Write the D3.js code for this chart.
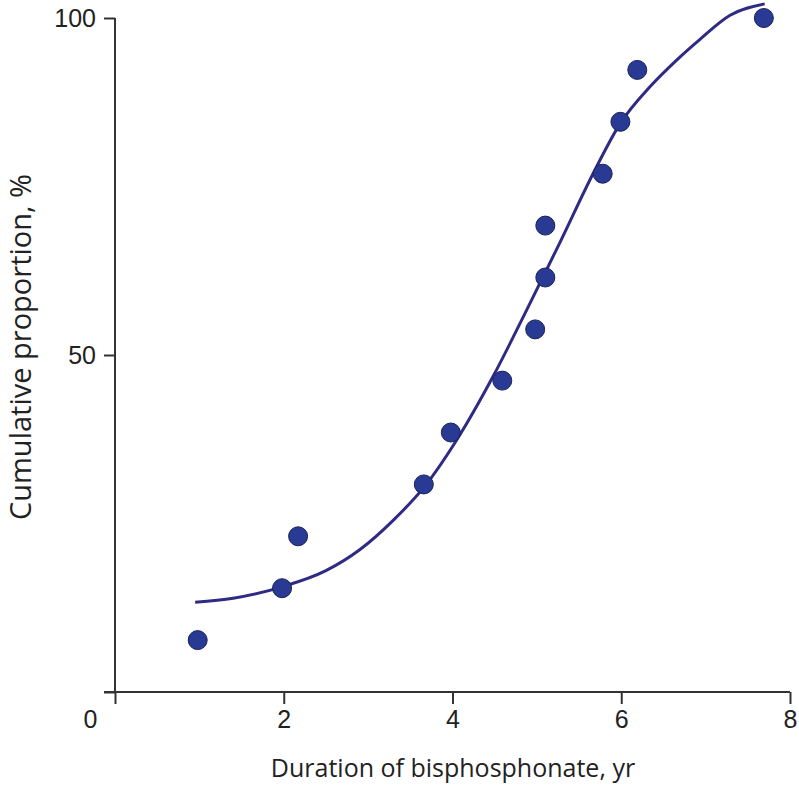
<!DOCTYPE html>
<html>
<head>
<meta charset="utf-8">
<script src="https://cdn.jsdelivr.net/npm/d3@7"></script>
<style>
	body { margin: 0; background: #fff; }
	svg { display: block; }
</style>
</head>
<body>
<div id="chart"></div>
<script>
// observed points: duration (yr) vs cumulative proportion (%)
var duration = [0.98, 1.98, 2.17, 3.66, 3.98, 4.59, 4.98, 5.10, 5.10, 5.78, 5.99, 6.19, 7.69];
var cumulative = [7.7, 15.4, 23.1, 30.8, 38.5, 46.2, 53.8, 61.5, 69.2, 76.9, 84.6, 92.3, 100];

// fitted curve
var fitX = [0.95, 1.40, 1.98, 2.50, 2.90, 3.30, 3.67, 4.05, 4.48, 4.88, 5.27, 5.67, 5.99, 6.34, 6.66, 6.93, 7.29, 7.70];
var fitY = [13.3, 13.9, 15.6, 18.0, 21.1, 25.5, 30.5, 37.4, 46.8, 56.7, 66.6, 77.0, 84.4, 89.8, 93.8, 96.8, 100.4, 102.1];

var xTicks = [0, 2, 4, 6, 8];
var yTicks = [0, 50, 100];

var w = 799, h = 786;
var svg = d3.select("#chart").append("svg")
	.attr("width", w)
	.attr("height", h);

var x = d3.scaleLinear().domain([0, 8]).range([115, 790]);
var y = d3.scaleLinear().domain([0, 100]).range([692, 18]);

var axisColor = "#333";
var tickFont = "'Liberation Sans', Arial, sans-serif";

// x axis
var xAxis = svg.append("g")
	.attr("transform", "translate(0," + y(0) + ")")
	.call(d3.axisBottom(x).tickValues(xTicks).tickSize(12).tickSizeOuter(0).tickFormat(d3.format("d")));
xAxis.select(".domain").remove();
xAxis.append("line")
	.attr("x1", x(0) - 11).attr("x2", x(8))
	.attr("stroke", axisColor).attr("stroke-width", 2);
xAxis.selectAll(".tick line").attr("stroke", axisColor).attr("stroke-width", 2);
xAxis.selectAll(".tick text")
	.attr("y", 18)
	.attr("fill", "#222")
	.style("font-family", tickFont)
	.style("font-size", "25px");
// the zero label sits left of the corner
xAxis.selectAll(".tick").filter(function (d) { return d === 0; })
	.select("text").attr("x", -25);

// y axis
var yAxis = svg.append("g")
	.attr("transform", "translate(" + x(0) + ",0)")
	.call(d3.axisLeft(y).tickValues(yTicks).tickSize(11).tickSizeOuter(0).tickFormat(function (d) { return d === 0 ? "" : d; }));
yAxis.select(".domain").remove();
yAxis.append("line")
	.attr("y1", y(100)).attr("y2", y(0) + 1)
	.attr("stroke", axisColor).attr("stroke-width", 2);
yAxis.selectAll(".tick line").attr("stroke", axisColor).attr("stroke-width", 2);
yAxis.selectAll(".tick text")
	.attr("x", -19)
	.attr("fill", "#222")
	.style("font-family", tickFont)
	.style("font-size", "25px");

// fitted curve
var fit = fitX.map(function (d, i) { return [d, fitY[i]]; });
var line = d3.line()
	.x(function (d) { return x(d[0]); })
	.y(function (d) { return y(d[1]); })
	.curve(d3.curveMonotoneX);

svg.append("path")
	.datum(fit)
	.attr("d", line)
	.attr("fill", "none")
	.attr("stroke", "#2f2a84")
	.attr("stroke-width", 3);

// points
var pts = duration.map(function (d, i) { return {x: d, y: cumulative[i]}; });
svg.append("g").selectAll("circle")
	.data(pts)
	.enter()
	.append("circle")
	.attr("cx", function (d) { return x(d.x); })
	.attr("cy", function (d) { return y(d.y); })
	.attr("r", 9.5)
	.attr("fill", "#283a94")
	.attr("stroke", "#1c2158")
	.attr("stroke-width", 1);

// titles
svg.append("text")
	.attr("x", 453)
	.attr("y", 777)
	.attr("text-anchor", "middle")
	.attr("fill", "#222")
	.style("font-family", "'Open Sans', sans-serif")
	.style("font-size", "25px")
	.text("Duration of bisphosphonate, yr");

svg.append("text")
	.attr("transform", "translate(31,347) rotate(-90)")
	.attr("text-anchor", "middle")
	.attr("fill", "#222")
	.style("font-family", "'Open Sans', sans-serif")
	.style("font-size", "29px")
	.text("Cumulative proportion, %");
</script>
</body>
</html>
